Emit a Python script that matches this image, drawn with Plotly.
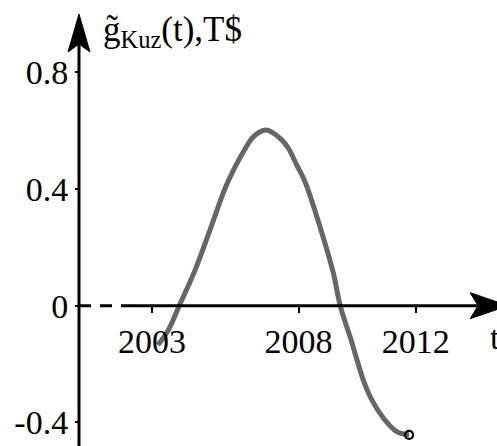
import plotly.graph_objects as go

# --- data ---
years = [2003.2, 2003.56, 2003.93, 2004.47, 2004.98, 2005.49, 2005.78, 2006.12,
         2006.46, 2006.89, 2007.37, 2007.65, 2007.94, 2008.22, 2008.73, 2009.19,
         2009.42, 2009.8, 2010.21, 2010.5, 2010.9, 2011.35, 2011.77]
g_kuz = [-0.135, -0.083, 0.0, 0.122, 0.26, 0.402, 0.465, 0.528,
         0.579, 0.602, 0.574, 0.54, 0.482, 0.425, 0.271, 0.111,
         0.0, -0.12, -0.255, -0.323, -0.386, -0.432, -0.443]
x_tick_vals = [2003, 2008, 2012]
x_tick_text = ["2003", "2008", "2012"]
y_tick_vals = [-0.4, 0, 0.4, 0.8]
y_tick_text = ["-0.4", "0", "0.4", "0.8"]

W, H = 497, 446
XMIN, XMAX = 1999.18, 2014.77
YMIN, YMAX = -0.481, 1.048
Y_AXIS_X = 2000.51     # where the vertical axis crosses
DASH_END = 2002.32     # dashed part of horizontal axis
FONT = "Liberation Serif"

fig = go.Figure()

fig.add_trace(go.Scatter(
    x=years, y=g_kuz, mode="lines",
    line=dict(color="#666666", width=5, shape="spline", smoothing=1.0),
    hoverinfo="skip", showlegend=False))

fig.add_trace(go.Scatter(
    x=[years[-1]], y=[g_kuz[-1]], mode="markers",
    marker=dict(symbol="circle-open", size=8, color="black", line=dict(width=2.2)),
    hoverinfo="skip", showlegend=False))

shapes = [
    # vertical axis
    dict(type="line", xref="x", yref="y", x0=Y_AXIS_X, x1=Y_AXIS_X, y0=YMIN - 0.05, y1=0.97,
         line=dict(color="black", width=3)),
    # horizontal axis: dashed part then solid
    dict(type="line", xref="x", yref="y", x0=Y_AXIS_X, x1=DASH_END, y0=0, y1=0,
         line=dict(color="black", width=3, dash="12px,9px")),
    dict(type="line", xref="x", yref="y", x0=DASH_END, x1=XMAX, y0=0, y1=0,
         line=dict(color="black", width=3)),
    # arrowheads
    dict(type="path", xref="x", yref="y", xsizemode="pixel", ysizemode="pixel",
         xanchor=Y_AXIS_X, yanchor=1.0,
         path="M0,0 L-11,-38 L0,-30 L11,-38 Z",
         fillcolor="black", line=dict(color="black", width=1)),
    dict(type="path", xref="x", yref="y", xsizemode="pixel", ysizemode="pixel",
         xanchor=2015.15, yanchor=0,
         path="M0,0 L-38,13 L-30,0 L-38,-13 Z",
         fillcolor="black", line=dict(color="black", width=1)),
]

annotations = [
    dict(x=2001.25, y=0.94, xref="x", yref="y", xanchor="left", yanchor="middle",
         text="g\u0303<sub>Kuz</sub>(t),T$", showarrow=False,
         font=dict(family=FONT, size=35, color="black")),
    dict(x=2014.45, y=-0.11, xref="x", yref="y", xanchor="left", yanchor="middle",
         text="t", showarrow=False,
         font=dict(family=FONT, size=34, color="black")),
]

fig.update_layout(
    width=W, height=H,
    margin=dict(l=40, r=0, t=0, b=0),
    paper_bgcolor="white", plot_bgcolor="white",
    shapes=shapes, annotations=annotations,
    xaxis=dict(range=[XMIN, XMAX], showgrid=False, zeroline=False, showline=False,
               anchor="free", position=(0 - YMIN) / (YMAX - YMIN),
               tickvals=x_tick_vals, ticktext=x_tick_text,
               ticks="outside", ticklen=6, tickwidth=1.5, tickcolor="black",
               tickfont=dict(family=FONT, size=34, color="black")),
    yaxis=dict(range=[YMIN, YMAX], showgrid=False, zeroline=False, showline=False,
               anchor="free", position=(Y_AXIS_X - XMIN) / (XMAX - XMIN),
               tickvals=y_tick_vals, ticktext=y_tick_text,
               ticks="outside", ticklen=4, tickwidth=1.5, tickcolor="black",
               tickfont=dict(family=FONT, size=34, color="black")),
)

fig.write_html("out.html")
